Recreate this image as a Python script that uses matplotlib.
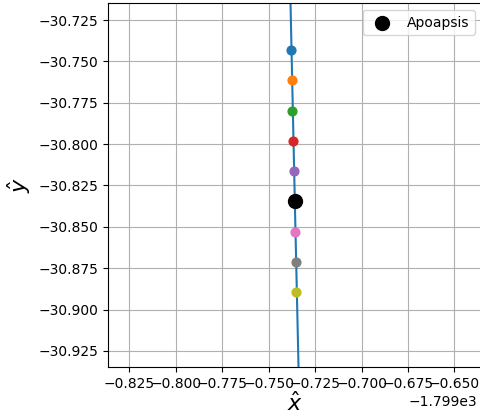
import numpy as np
import matplotlib
matplotlib.use("Agg")
import matplotlib.pyplot as plt
from matplotlib.ticker import MultipleLocator

# trajectory near apoapsis (x, y in canonical units)
traj_x = [-1799.7385, -1799.7359, -1799.7336]
traj_y = [-30.700, -30.8344, -30.950]

# sampled positions around apoapsis
pts_x = [-1799.7377, -1799.7374, -1799.7372, -1799.7368, -1799.7365,
         -1799.7361, -1799.7358, -1799.7354, -1799.7350]
pts_y = [-30.7431, -30.7613, -30.7800, -30.7981, -30.8162,
         -30.8344, -30.8531, -30.8712, -30.8893]

apo_x = -1799.7359
apo_y = -30.8344

fig = plt.figure(figsize=(4.8, 4.15), dpi=100)
ax = fig.add_axes([108 / 480, (415 - 367) / 415, (482 - 108) / 480, (367 - 3) / 415])

ax.plot(traj_x, traj_y, color="tab:blue", zorder=2)
for i, (x, y) in enumerate(zip(pts_x, pts_y)):
    ax.scatter(x, y, color=f"C{i}", s=40, zorder=3)
ax.scatter(apo_x, apo_y, color="black", s=100, zorder=4, label="Apoapsis")

ax.set_xlim(-1799.8364, -1799.6352)
ax.set_ylim(-30.9347, -30.7147)
ax.xaxis.set_major_locator(MultipleLocator(0.025))
ax.yaxis.set_major_locator(MultipleLocator(0.025))
ax.xaxis.get_offset_text().set_x(0.988)
ax.set_xlabel(r"$\hat{x}$", fontsize=16, labelpad=0)
ax.set_ylabel(r"$\hat{y}$", fontsize=16)
ax.grid(True)
ax.legend(loc="upper right")

fig.savefig("out.png", dpi=100)
